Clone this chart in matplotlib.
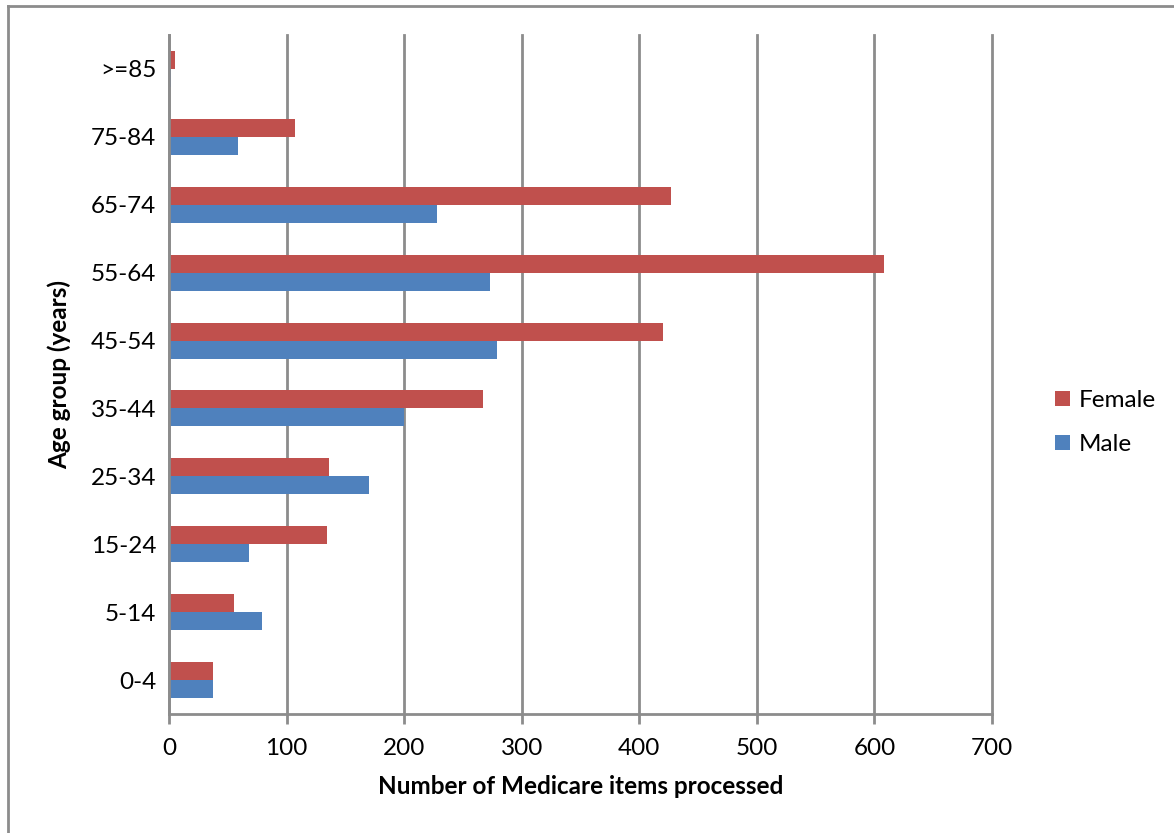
import matplotlib
matplotlib.use("Agg")
import matplotlib.pyplot as plt
from matplotlib.lines import Line2D
import numpy as np

age_groups = ["0-4", "5-14", "15-24", "25-34", "35-44", "45-54", "55-64", "65-74", "75-84", ">=85"]
female = [37, 55, 134, 136, 267, 420, 608, 427, 107, 5]
male = [37, 79, 68, 170, 200, 279, 273, 228, 59, 1.5]

female_color = "#C0504D"
male_color = "#4F81BD"
grid_color = "#8C8C8C"

plt.rcParams["font.family"] = ["Lato", "DejaVu Sans"]
FS = 17.5

W, H = 1174, 833
fig = plt.figure(figsize=(W / 100, H / 100), dpi=100)

# plot area in pixel coordinates
left, right, top, bottom = 169, 992, 35, 714
ax = fig.add_axes([left / W, 1 - bottom / H, (right - left) / W, (bottom - top) / H])

y = np.arange(len(age_groups))
bh = 0.265
ax.barh(y + bh / 2, female, height=bh, color=female_color, label="Female", zorder=3)
ax.barh(y - bh / 2, male, height=bh, color=male_color, label="Male", zorder=3)

ax.set_xlim(0, 700)
ax.set_ylim(-0.5, len(age_groups) - 0.5)
ax.set_xticks(np.arange(0, 701, 100))
ax.set_yticks(y)
ax.set_yticklabels(age_groups)

ax.xaxis.grid(True, color=grid_color, linewidth=2, zorder=0)
ax.set_axisbelow(True)
for gl in ax.get_xgridlines():
    gl.set_clip_on(False)

for s in ["top", "right"]:
    ax.spines[s].set_visible(False)
for s in ["left", "bottom"]:
    ax.spines[s].set_color(grid_color)
    ax.spines[s].set_linewidth(2)
    ax.spines[s].set_zorder(4)

ax.tick_params(axis="x", length=7, width=2, color=grid_color, labelsize=FS, pad=10)
ax.tick_params(axis="y", length=0, labelsize=FS, pad=9)

ax.set_xlabel("Number of Medicare items processed", fontsize=FS, fontweight="bold", labelpad=12)
ax.set_ylabel("Age group (years)", fontsize=FS, fontweight="bold")
ax.yaxis.set_label_coords((71 - left) / (right - left), 0.5)

fig.legend(loc="center left", bbox_to_anchor=(1055 / W, 1 - 422.5 / H),
           bbox_transform=fig.transFigure, frameon=False, fontsize=FS,
           handlelength=0.62, handleheight=0.62, handletextpad=0.35,
           labelspacing=0.95, borderpad=0, borderaxespad=0)

# outer chart border (left and top edges)
fig.add_artist(Line2D([8 / W, 8 / W], [0, 1 - 6 / H], transform=fig.transFigure,
                      color=grid_color, linewidth=2))
fig.add_artist(Line2D([8 / W, 1], [1 - 6 / H, 1 - 6 / H], transform=fig.transFigure,
                      color=grid_color, linewidth=2))

fig.savefig("out.png", dpi=100)
